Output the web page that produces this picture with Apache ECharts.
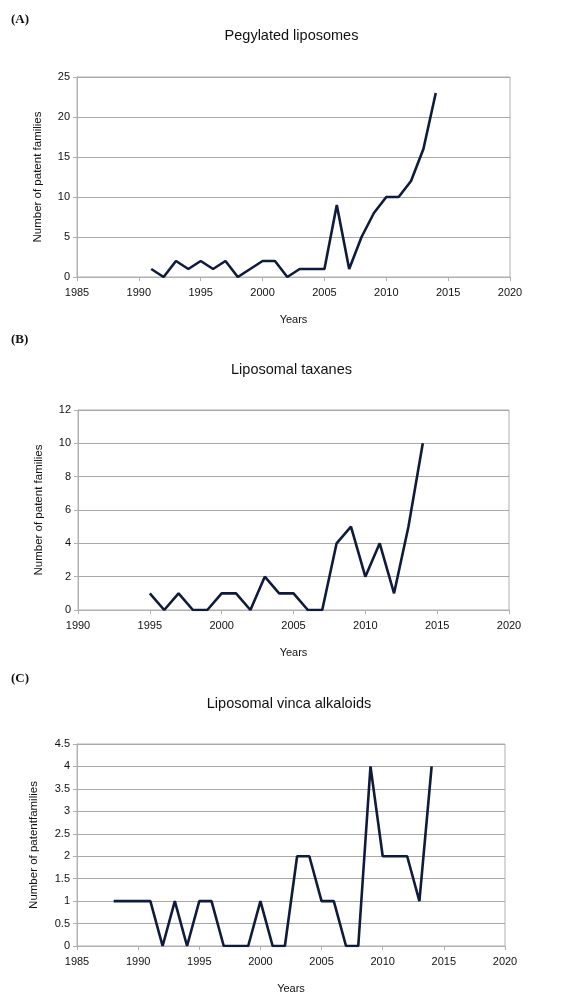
<!DOCTYPE html>
<html><head><meta charset="utf-8">
<script src="https://cdn.jsdelivr.net/npm/echarts@6/dist/echarts.min.js"></script>
<style>html,body{margin:0;padding:0;background:#fff}#c{width:587px;height:992px}</style>
</head><body><div id="c"></div>
<script>
const yearsA = [1991,1992,1993,1994,1995,1996,1997,1998,1999,2000,2001,2002,2003,2004,2005,2006,2007,2008,2009,2010,2011,2012,2013,2014];
const valuesA = [1,0,2,1,2,1,2,0,1,2,2,0,1,1,1,9,1,5,8,10,10,12,16,23];
const yearsB = [1995,1996,1997,1998,1999,2000,2001,2002,2003,2004,2005,2006,2007,2008,2009,2010,2011,2012,2013,2014];
const valuesB = [1,0,1,0,0,1,1,0,2,1,1,0,0,4,5,2,4,1,5,10];
const yearsC = [1988,1989,1990,1991,1992,1993,1994,1995,1996,1997,1998,1999,2000,2001,2002,2003,2004,2005,2006,2007,2008,2009,2010,2011,2012,2013,2014];
const valuesC = [1,1,1,1,0,1,0,1,1,0,0,0,1,0,0,2,2,1,1,0,0,4,2,2,2,1,4];
const titles = ['Pegylated liposomes','Liposomal taxanes','Liposomal vinca alkaloids'];
const panelLabels = ['(A)','(B)','(C)'];
const yNames = ['Number of patent families','Number of patent families','Number of patentfamilies'];

const font = 'Liberation Sans, Arial, sans-serif';
const grids = [
  {left:77, top:77, width:433, height:200},
  {left:78, top:410, width:431, height:200},
  {left:77, top:744, width:428, height:202}
];
const xCfg = [{min:1985,max:2020},{min:1990,max:2020},{min:1985,max:2020}];
const yCfg = [{min:0,max:25,interval:5},{min:0,max:12,interval:2},{min:0,max:4.5,interval:0.5}];
const titleY = [23, 357, 691];
const panelY = [13, 333, 672];
const data = [[yearsA,valuesA],[yearsB,valuesB],[yearsC,valuesC]];

const chart = echarts.init(document.getElementById('c'));
const opt = {
  backgroundColor:'#fff',
  animation:false,
  title: titles.map((t,i)=>({text:t, left: grids[i].left + grids[i].width/2 - 7, textAlign:'center', top:titleY[i],
    textStyle:{fontFamily:font, fontSize:14.5, fontWeight:'normal', color:'#111'}})),
  graphic: panelLabels.map((t,i)=>({type:'text', left:11, top:panelY[i],
    style:{text:t, font:'bold 13px "Liberation Serif", "Times New Roman", serif', fill:'#111'}})),
  grid: grids.map(g=>Object.assign({show:true, borderColor:'#b0b0b0', borderWidth:1, containLabel:false, outerBoundsMode:'none'}, g)),
  xAxis: xCfg.map((c,i)=>({type:'value', gridIndex:i, min:c.min, max:c.max, interval:5,
    name:'Years', nameLocation:'middle', nameGap:37,
    nameTextStyle:{fontFamily:font, fontSize:11, color:'#111'},
    axisLine:{show:true, lineStyle:{color:'#b0b0b0'}},
    axisTick:{show:true, length:4, lineStyle:{color:'#b0b0b0'}},
    axisLabel:{fontFamily:font, fontSize:11, color:'#111', margin:10, formatter:v=>String(v)},
    splitLine:{show:false}})),
  yAxis: yCfg.map((c,i)=>({type:'value', gridIndex:i, min:c.min, max:c.max, interval:c.interval,
    name:yNames[i], nameLocation:'middle', nameGap:i===2?37:33, nameRotate:90,
    nameTextStyle:{fontFamily:font, fontSize:11.5, color:'#111'},
    axisLine:{show:true, lineStyle:{color:'#b0b0b0'}},
    axisTick:{show:true, length:4, lineStyle:{color:'#b0b0b0'}},
    axisLabel:{fontFamily:font, fontSize:11, color:'#111', margin:7, formatter:v=>String(v)},
    splitLine:{show:true, lineStyle:{color:'#a8a8a8', width:1}}})),
  series: data.map((d,i)=>({type:'line', xAxisIndex:i, yAxisIndex:i,
    data:d[0].map((x,k)=>[x,d[1][k]]), symbol:'none', smooth:false,
    lineStyle:{color:'#0f1a3c', width:2.6}}))
};
chart.setOption(opt);
</script></body></html>
